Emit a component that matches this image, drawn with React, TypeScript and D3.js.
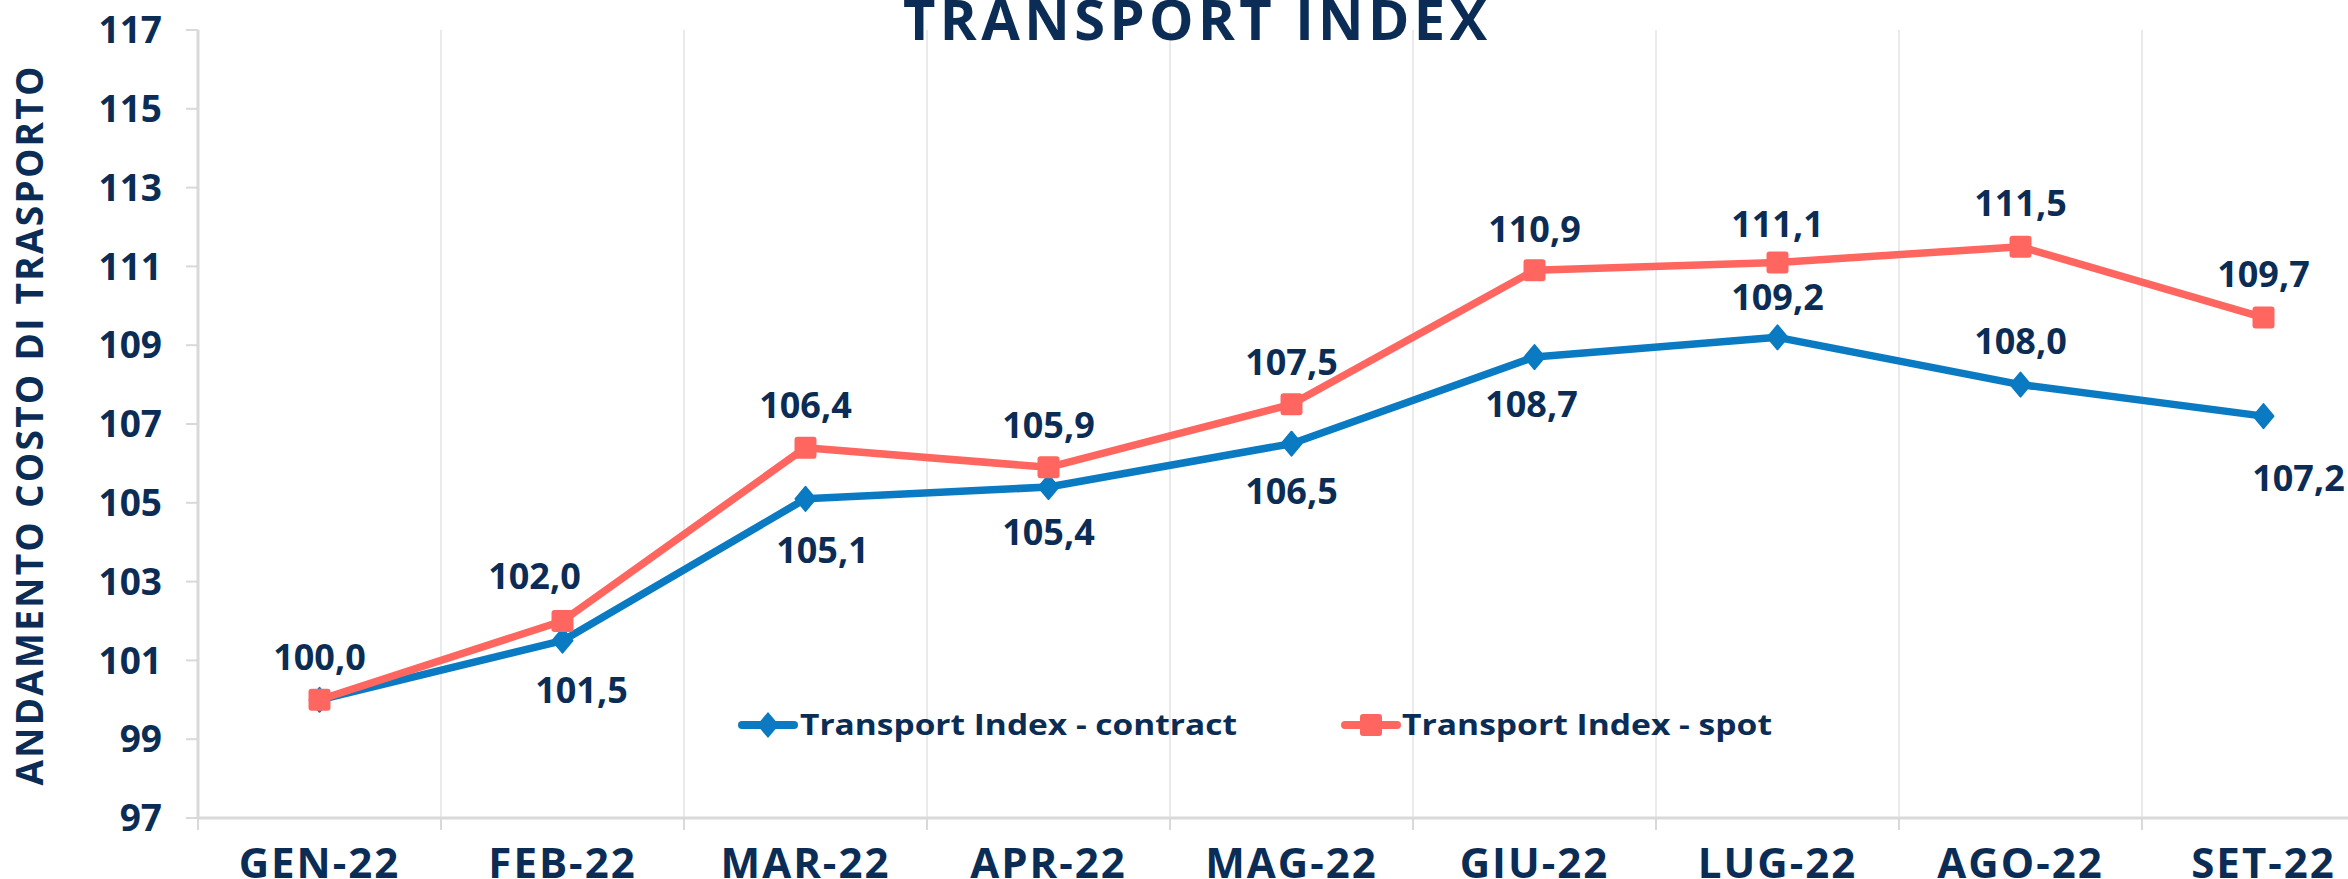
import React from "react";
import * as d3 from "d3";

const categories = ["GEN-22", "FEB-22", "MAR-22", "APR-22", "MAG-22", "GIU-22", "LUG-22", "AGO-22", "SET-22"];
const contractValues = [100.0, 101.5, 105.1, 105.4, 106.5, 108.7, 109.2, 108.0, 107.2];
const spotValues = [100.0, 102.0, 106.4, 105.9, 107.5, 110.9, 111.1, 111.5, 109.7];
const yTicks = [97, 99, 101, 103, 105, 107, 109, 111, 113, 115, 117];
const contractName = "Transport Index - contract";
const spotName = "Transport Index - spot";
const titleText = "TRANSPORT INDEX";
const yTitleText = "ANDAMENTO COSTO DI TRASPORTO";

// label placement offsets (text centre relative to point), null = hidden
const contractLabelOffsets: ([number, number] | null)[] = [null, [19, 49], [17, 51], [0, 45], [0, 47], [-3, 47], [0, -40], [0, -43], [35, 62]];
const spotLabelOffsets: ([number, number] | null)[] = [[0, -43], [-28, -45], [0, -42], [0, -42], [0, -42], [0, -41], [0, -38], [0, -44], [0, -43]];

const W = 2348;
const H = 879;
const NAVY = "#0B2D55";
const BLUE = "#0A7BC2";
const RED = "#FF6660";
const FONT = "'Open Sans', 'DejaVu Sans', sans-serif";

const x = d3.scaleBand<string>().domain(categories).range([198, 198 + 243 * categories.length]).paddingInner(0).paddingOuter(0);
const y = d3.scaleLinear().domain([97, 117]).range([818, 30]);
const cx = (c: string) => (x(c) as number) + x.bandwidth() / 2;
const fmt = (v: number) => v.toFixed(1).replace(".", ",");

const lineGen = d3
  .line<number>()
  .x((_, i) => cx(categories[i]))
  .y((d) => y(d));

const diamond = (px: number, py: number, w: number, h: number) => {
  const p = d3.path();
  p.moveTo(px, py - h);
  p.lineTo(px + w, py);
  p.lineTo(px, py + h);
  p.lineTo(px - w, py);
  p.closePath();
  return p.toString();
};

export default function App() {
  const boundaries = categories.map((c) => x(c) as number);
  const labelFont = 36;
  const capHalf = labelFont * 0.357;
  return (
    <svg
      width={W}
      height={H}
      viewBox={`0 0 ${W} ${H}`}
      style={{ position: "absolute", left: 0, top: 0, display: "block", background: "#fff" }}
    >
      <rect x={0} y={0} width={W} height={H} fill="#fff" />
      {/* vertical gridlines */}
      {boundaries.slice(1).map((bx, i) => (
        <line key={"g" + i} x1={bx} x2={bx} y1={y(117)} y2={y(97)} stroke="#EAEAEA" strokeWidth={2} />
      ))}
      {/* x-axis tick marks */}
      {boundaries.map((bx, i) => (
        <line key={"xt" + i} x1={bx} x2={bx} y1={y(97)} y2={y(97) + 12} stroke="#D9D9D9" strokeWidth={2} />
      ))}
      {/* y axis */}
      <line x1={198} x2={198} y1={y(117)} y2={y(97)} stroke="#D9D9D9" strokeWidth={3} />
      {yTicks.map((t) => (
        <g key={"yt" + t}>
          <line x1={186} x2={198} y1={y(t)} y2={y(t)} stroke="#D9D9D9" strokeWidth={2} />
          <text
            x={162}
            y={y(t) + 37 * 0.357}
            textAnchor="end"
            fontFamily={FONT}
            fontWeight={700}
            fontSize={37}
            fill={NAVY}
          >
            {t}
          </text>
        </g>
      ))}
      {/* x axis */}
      <line x1={198} x2={W} y1={y(97)} y2={y(97)} stroke="#D9D9D9" strokeWidth={3} />
      {categories.map((c) => (
        <text
          key={"xl" + c}
          x={cx(c)}
          y={878}
          textAnchor="middle"
          fontFamily={FONT}
          fontWeight={700}
          fontSize={42}
          letterSpacing={2}
          fill={NAVY}
        >
          {c}
        </text>
      ))}
      {/* title */}
      <text
        x={1195}
        y={40}
        textAnchor="middle"
        fontFamily={FONT}
        fontWeight={700}
        fontSize={56}
        textLength={584}
        lengthAdjust="spacing"
        fill={NAVY}
      >
        {titleText}
      </text>
      {/* y title */}
      <text
        transform={`translate(43, 426) rotate(-90)`}
        textAnchor="middle"
        fontFamily={FONT}
        fontWeight={700}
        fontSize={37}
        textLength={719}
        lengthAdjust="spacing"
        fill={NAVY}
      >
        {yTitleText}
      </text>

      {/* contract series */}
      <path d={lineGen(contractValues) || ""} fill="none" stroke={BLUE} strokeWidth={7.5} strokeLinejoin="round" />
      {contractValues.map((v, i) => (
        <path key={"cm" + i} d={diamond(cx(categories[i]), y(v), 10, 12)} fill={BLUE} stroke={BLUE} strokeWidth={2} strokeLinejoin="round" />
      ))}
      {/* spot series */}
      <path d={lineGen(spotValues) || ""} fill="none" stroke={RED} strokeWidth={7.5} strokeLinejoin="round" />
      {spotValues.map((v, i) => (
        <rect key={"sm" + i} x={cx(categories[i]) - 11} y={y(v) - 11} width={22} height={22} rx={3} fill={RED} />
      ))}

      {/* data labels */}
      {contractValues.map((v, i) => {
        const o = contractLabelOffsets[i];
        if (!o) return null;
        return (
          <text
            key={"cl" + i}
            x={cx(categories[i]) + o[0]}
            y={y(v) + o[1] + capHalf}
            textAnchor="middle"
            fontFamily={FONT}
            fontWeight={700}
            fontSize={labelFont}
            fill={NAVY}
          >
            {fmt(v)}
          </text>
        );
      })}
      {spotValues.map((v, i) => {
        const o = spotLabelOffsets[i];
        if (!o) return null;
        return (
          <text
            key={"sl" + i}
            x={cx(categories[i]) + o[0]}
            y={y(v) + o[1] + capHalf}
            textAnchor="middle"
            fontFamily={FONT}
            fontWeight={700}
            fontSize={labelFont}
            fill={NAVY}
          >
            {fmt(v)}
          </text>
        );
      })}

      {/* legend */}
      <g>
        <line x1={742} x2={794} y1={725} y2={725} stroke={BLUE} strokeWidth={8} strokeLinecap="round" />
        <path d={diamond(768, 725, 11, 13)} fill={BLUE} />
        <text x={800} y={735} fontFamily={FONT} fontWeight={700} fontSize={29} fill={NAVY} textLength={437} lengthAdjust="spacingAndGlyphs">
          {contractName}
        </text>
        <line x1={1345} x2={1397} y1={725} y2={725} stroke={RED} strokeWidth={8} strokeLinecap="round" />
        <rect x={1360} y={714} width={22} height={22} rx={3} fill={RED} />
        <text x={1402} y={735} fontFamily={FONT} fontWeight={700} fontSize={29} fill={NAVY} textLength={370} lengthAdjust="spacingAndGlyphs">
          {spotName}
        </text>
      </g>
    </svg>
  );
}
